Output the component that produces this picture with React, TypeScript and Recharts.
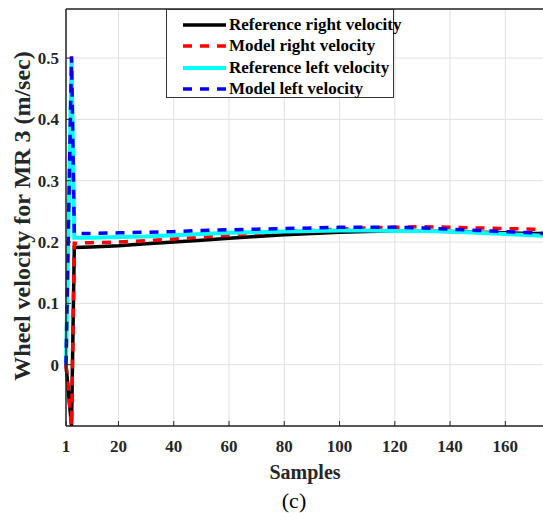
import React from "react";
import {
  LineChart,
  Line,
  XAxis,
  YAxis,
  CartesianGrid,
  Legend,
  ReferenceLine,
} from "recharts";

// samples (x = sample index)
const samples = [1, 3, 4, 10, 20, 30, 40, 50, 60, 70, 80, 90, 100, 110, 120, 130, 140, 150, 160, 170, 174];

const refRight = [0.0, -0.1, 0.191, 0.192, 0.194, 0.197, 0.2, 0.203, 0.206, 0.209, 0.212, 0.214, 0.216, 0.217, 0.218, 0.218, 0.217, 0.216, 0.215, 0.214, 0.214];
const modelRight = [0.0, -0.1, 0.198, 0.199, 0.2, 0.202, 0.205, 0.208, 0.211, 0.214, 0.217, 0.219, 0.221, 0.223, 0.224, 0.225, 0.224, 0.223, 0.222, 0.221, 0.22];
const refLeft = [0.0, 0.5, 0.207, 0.207, 0.208, 0.209, 0.211, 0.213, 0.215, 0.216, 0.217, 0.218, 0.219, 0.219, 0.218, 0.218, 0.217, 0.215, 0.213, 0.211, 0.21];
const modelLeft = [0.0, 0.503, 0.214, 0.214, 0.215, 0.216, 0.217, 0.219, 0.22, 0.221, 0.222, 0.223, 0.224, 0.224, 0.224, 0.223, 0.221, 0.219, 0.217, 0.215, 0.214];

const xTicks = [1, 20, 40, 60, 80, 100, 120, 140, 160];
const yTicks = [0, 0.1, 0.2, 0.3, 0.4, 0.5];

const series = [
  { key: "refRight", name: "Reference right velocity", color: "#000000", width: 3.5, dash: undefined },
  { key: "modelRight", name: "Model right velocity", color: "#ff0000", width: 3.5, dash: "9 8" },
  { key: "refLeft", name: "Reference left velocity", color: "#00ffff", width: 4, dash: undefined },
  { key: "modelLeft", name: "Model left velocity", color: "#0000ff", width: 3.5, dash: "9 8" },
];

const data = samples.map((s, i) => ({
  sample: s,
  refRight: refRight[i],
  modelRight: modelRight[i],
  refLeft: refLeft[i],
  modelLeft: modelLeft[i],
}));

const FONT = "'Liberation Serif', 'Times New Roman', Times, serif";
const AXIS = "#262626";
const X_MARGIN = 14;
const Y_MARGIN = 7;

const tickText = { fontFamily: FONT, fontWeight: 700, fontSize: 17 };

// eslint-disable-next-line @typescript-eslint/no-explicit-any
function XTick({ x, y, payload }: any) {
  const axisY = y - X_MARGIN;
  return (
    <g>
      <line x1={x} x2={x} y1={axisY} y2={axisY - 5} stroke={AXIS} strokeWidth={1} />
      <text x={x} y={y} dy="0.71em" textAnchor="middle" fill="#262626" style={tickText}>
        {payload.value}
      </text>
    </g>
  );
}

// eslint-disable-next-line @typescript-eslint/no-explicit-any
function YTick({ x, y, payload }: any) {
  const axisX = x + Y_MARGIN;
  return (
    <g>
      <line x1={axisX} x2={axisX + 5} y1={y} y2={y} stroke={AXIS} strokeWidth={1} />
      <text x={x} y={y} dy="0.355em" textAnchor="end" fill="#262626" style={tickText}>
        {String(Math.round(payload.value * 10) / 10)}
      </text>
    </g>
  );
}

function LegendBox() {
  return (
    <div
      style={{
        width: 228,
        height: 89,
        border: "1px solid #333",
        background: "#fff",
        boxSizing: "border-box",
        padding: "4px 0 0 15px",
        fontFamily: FONT,
        fontWeight: 700,
        fontSize: 17,
        color: "#000",
      }}
    >
      {series.map((s) => (
        <div key={s.key} style={{ display: "flex", alignItems: "center", height: 21.5, whiteSpace: "nowrap", fontFamily: FONT }}>
          <svg width={47} height={10} style={{ flex: "none" }}>
            <line x1={1} x2={44} y1={5} y2={5} stroke={s.color} strokeWidth={s.width} strokeDasharray={s.dash} />
          </svg>
          <span style={{ fontFamily: FONT }}>{s.name}</span>
        </div>
      ))}
    </div>
  );
}

export default function App() {
  return (
    <div
      style={{
        position: "absolute",
        left: 0,
        top: 0,
        width: 543,
        height: 513,
        overflow: "hidden",
        background: "#fff",
        fontFamily: FONT,
      }}
    >
      <LineChart width={545} height={513} data={data} margin={{ top: 9, right: 1, bottom: 0, left: 0 }}>
        <CartesianGrid stroke="#e0e0e0" strokeWidth={1} />
        <XAxis
          dataKey="sample"
          type="number"
          domain={[1, 174]}
          ticks={xTicks}
          height={87}
          tickSize={0}
          tickMargin={X_MARGIN}
          tick={<XTick />}
          axisLine={{ stroke: AXIS, strokeWidth: 1.5 }}
          interval={0}
        />
        <YAxis
          type="number"
          domain={[-0.1, 0.58]}
          ticks={yTicks}
          width={66}
          tickSize={0}
          tickMargin={Y_MARGIN}
          tick={<YTick />}
          axisLine={{ stroke: AXIS, strokeWidth: 1.5 }}
          allowDataOverflow
          interval={0}
        />
        <ReferenceLine y={0.58} stroke={AXIS} strokeWidth={1.5} />
        {series.map((s) => (
          <Line
            key={s.key}
            type="linear"
            dataKey={s.key}
            name={s.name}
            stroke={s.color}
            strokeWidth={s.width}
            strokeDasharray={s.dash}
            dot={false}
            isAnimationActive={false}
          />
        ))}
        <Legend
          layout="vertical"
          align="center"
          verticalAlign="middle"
          content={<LegendBox />}
          wrapperStyle={{ left: 166, top: 9, width: 228, height: 89 }}
        />
      </LineChart>
      <div
        style={{
          position: "absolute",
          left: 22,
          top: 216,
          transform: "translate(-50%, -50%) rotate(-90deg)",
          whiteSpace: "nowrap",
          fontWeight: 700,
          fontSize: 24,
          color: "#262626",
        }}
      >
        Wheel velocity for MR 3 (m/sec)
      </div>
      <div
        style={{
          position: "absolute",
          left: 305,
          top: 472,
          transform: "translate(-50%, -50%)",
          whiteSpace: "nowrap",
          fontWeight: 700,
          fontSize: 20,
          color: "#262626",
        }}
      >
        Samples
      </div>
      <div
        style={{
          position: "absolute",
          left: 294,
          top: 501,
          transform: "translate(-50%, -50%)",
          whiteSpace: "nowrap",
          fontSize: 22,
          color: "#000",
        }}
      >
        (c)
      </div>
    </div>
  );
}
